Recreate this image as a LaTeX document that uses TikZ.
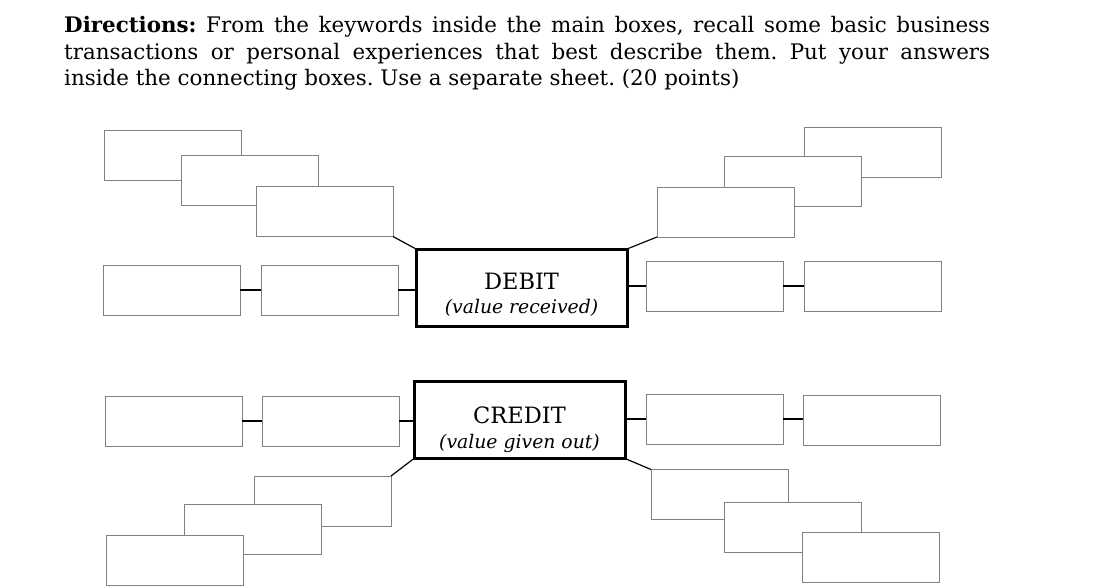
\documentclass[tikz,border=0pt]{standalone}
\usepackage{fontspec}
\setmainfont{DejaVu Serif}
\frenchspacing
\begin{document}
\begin{tikzpicture}[x=1pt,y=-1pt,
  sbox/.style={draw=black!50,fill=white,line width=0.9pt,minimum width=137pt,minimum height=50pt,anchor=north west,inner sep=0pt,outer sep=0pt},
  mainbox/.style={draw=black,fill=white,line width=3pt,minimum width=211pt,minimum height=77pt,inner sep=0pt,outer sep=0pt},
  titletext/.style={anchor=base,inner sep=0pt,font=\fontsize{22.5}{26}\selectfont},
  subtext/.style={anchor=base,inner sep=0pt,font=\fontsize{18.8}{22}\selectfont\itshape},
  conn/.style={draw=black,line width=1.2pt},
  dirline/.style={anchor=base west,inner sep=0pt,font=\fontsize{21.4}{24}\selectfont}]
\useasboundingbox (0,0) rectangle (1119,588);
% directions
\node[dirline] (t1) at (64,32.3) {\makebox[926pt][s]{\textbf{Directions:} From the keywords inside the main boxes, recall some basic business}};
\node[dirline] (t2) at (64,59.3) {\makebox[926pt][s]{transactions or personal experiences that best describe them. Put your answers}};
\node[dirline] (t3) at (64,85.7) {inside the connecting boxes. Use a separate sheet. (20 points)};
% main boxes
\node[mainbox] (debit) at (521.5,287.5) {};
\node[titletext] (debitT) at ([yshift=-1.8pt]debit.center) {DEBIT};
\node[subtext] (debitS) at ([yshift=-25.5pt]debit.center) {(value received)};
\node[mainbox] (credit) at (519.5,420) {};
\node[titletext] (creditT) at ([yshift=-3.3pt]credit.center) {CREDIT};
\node[subtext] (creditS) at ([yshift=-28pt]credit.center) {(value given out)};
% top-left stack
\node[sbox] (a1) at (104,130) {};
\node[sbox] (a2) at (181,155) {};
\node[sbox] (a3) at (256,186.5) {};
% top-right stack
\node[sbox] (b1) at (804,127.5) {};
\node[sbox] (b2) at (724,156) {};
\node[sbox] (b3) at (657,187) {};
% debit rows
\node[sbox] (dl1) at (103,265) {};
\node[sbox] (dl2) at (261,265) {};
\node[sbox] (dr1) at (646,261) {};
\node[sbox] (dr2) at (804,261) {};
% credit rows
\node[sbox] (cl1) at (105,396) {};
\node[sbox] (cl2) at (262,396) {};
\node[sbox] (cr1) at (646,394) {};
\node[sbox] (cr2) at (803,395) {};
% bottom-left stack
\node[sbox] (g1) at (254,476) {};
\node[sbox] (g2) at (184,504) {};
\node[sbox] (g3) at (106,535) {};
% bottom-right stack
\node[sbox] (h1) at (651,469.5) {};
\node[sbox] (h2) at (724,502) {};
\node[sbox] (h3) at (802,532) {};
% connectors
\draw[conn] (a3.south east) -- (debit.north west);
\draw[conn] (b3.south west) -- (debit.north east);
\draw[conn] (dl1.east) -- (dl2.west);
\draw[conn] (dl2.east) -- (dl2.east -| debit.west);
\draw[conn] (dr1.west -| debit.east) -- (dr1.west);
\draw[conn] (dr1.east) -- (dr2.west);
\draw[conn] (cl1.east) -- (cl2.west);
\draw[conn] (cl2.east) -- (cl2.east -| credit.west);
\draw[conn] (cr1.west -| credit.east) -- (cr1.west);
\draw[conn] (cr1.east) -- (cr1.east -| cr2.west);
\draw[conn] (g1.north east) -- (credit.south west);
\draw[conn] (h1.north west) -- (credit.south east);
\end{tikzpicture}
\end{document}
